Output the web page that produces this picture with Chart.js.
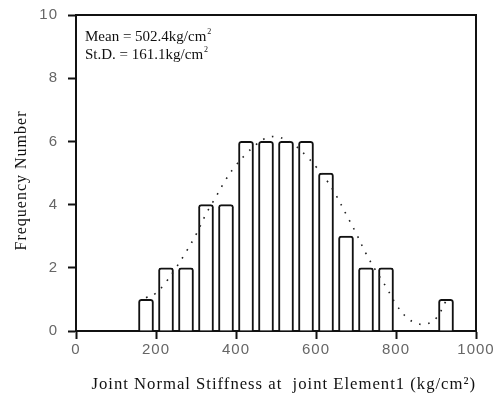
<!DOCTYPE html>
<html>
<head>
<meta charset="utf-8">
<script src="https://cdn.jsdelivr.net/npm/chart.js@4"></script>
<style>
  html, body { margin: 0; padding: 0; background: #fff; }
  #wrap { width: 503px; height: 395px; }
</style>
</head>
<body>
<div id="wrap"><canvas id="histChart"></canvas></div>
<script>
// histogram bins (class centres, kg/cm2) and counts
const binCenters = [175, 225, 275, 325, 375, 425, 475, 525, 575, 625, 675, 725, 775, 825, 875, 925];
const counts = [1, 2, 2, 4, 4, 6, 6, 6, 6, 5, 3, 2, 2, 0, 0, 1];

// dotted fitted curve
const curveX = [175, 200, 225, 250, 275, 300, 325, 350, 375, 400, 425, 450, 475, 500, 525, 550, 575, 600, 625, 650, 675, 700, 725, 750, 775, 800, 825, 850, 875, 900, 925];
const curveY = [1.05, 1.2, 1.55, 2.0, 2.5, 3.05, 3.7, 4.25, 4.8, 5.25, 5.6, 5.9, 6.1, 6.15, 6.05, 5.85, 5.55, 5.2, 4.8, 4.3, 3.7, 3.1, 2.45, 1.9, 1.4, 0.85, 0.45, 0.25, 0.22, 0.4, 0.95];

const xTicks = [0, 200, 400, 600, 800, 1000];
const yTicks = [0, 2, 4, 6, 8, 10];
const statLines = ['Mean = 502.4kg/cm', 'St.D. = 161.1kg/cm'];

const serif = '"Liberation Serif", "DejaVu Serif", serif';
const sans = '"Liberation Sans", Arial, sans-serif';

const spacingPlugin = {
    id: 'spacing',
    beforeDraw(chart) {
        chart.ctx.letterSpacing = '1px';
    }
};

const statsPlugin = {
    id: 'stats',
    afterDraw(chart) {
        const ctx = chart.ctx;
        const area = chart.chartArea;
        ctx.save();
        ctx.letterSpacing = '0px';
        ctx.fillStyle = '#111';
        ctx.textBaseline = 'alphabetic';
        statLines.forEach((txt, i) => {
            const x = area.left + 9;
            const y = area.top + 26 + i * 18;
            ctx.font = '15px ' + serif;
            ctx.fillText(txt, x, y);
            const w = ctx.measureText(txt).width;
            ctx.font = '8px ' + serif;
            ctx.fillText('2', x + w + 1, y - 7);
        });
        ctx.restore();
    }
};

const ctx = document.getElementById('histChart').getContext('2d');
new Chart(ctx, {
    data: {
        datasets: [{
            type: 'line',
            data: curveX.map((x, i) => ({ x: x, y: curveY[i] })),
            borderColor: '#222',
            borderWidth: 1.6,
            borderDash: [1.6, 7.5],
            pointRadius: 0,
            tension: 0.4,
            fill: false,
            order: 0
        }, {
            type: 'bar',
            data: binCenters.map((x, i) => ({ x: x, y: counts[i] })),
            backgroundColor: '#fff',
            borderColor: '#111',
            borderWidth: 2,
            borderSkipped: 'bottom',
            borderRadius: { topLeft: 3, topRight: 3 },
            barThickness: 15,
            order: 1
        }]
    },
    options: {
        responsive: true,
        maintainAspectRatio: false,
        animation: false,
        layout: { padding: { left: 0, right: 27, top: 15, bottom: 0 } },
        plugins: {
            legend: { display: false },
            tooltip: { enabled: false }
        },
        scales: {
            x: {
                type: 'linear',
                position: 'bottom',
                min: 0,
                max: 1000,
                offset: false,
                afterBuildTicks: (scale) => { scale.ticks = xTicks.map(v => ({ value: v })); },
                afterFit: (scale) => { scale.height = 64; scale.paddingLeft = 0; scale.paddingRight = 0; },
                grid: { offset: false, drawOnChartArea: false, drawTicks: true, tickLength: 8, tickColor: '#111', tickWidth: 2 },
                border: { display: true, color: '#111', width: 2 },
                ticks: {
                    color: '#666', padding: 2, maxRotation: 0,
                    font: { family: sans, size: 15 },
                    callback: (v) => String(v)
                },
                title: {
                    display: true,
                    text: '   Joint Normal Stiffness at  joint Element1 (kg/cm\u00B2)',
                    color: '#111',
                    font: { family: serif, size: 17 },
                    padding: { top: 0, bottom: 0 }
                }
            },
            y: {
                type: 'linear',
                position: 'left',
                min: 0,
                max: 10,
                afterBuildTicks: (scale) => { scale.ticks = yTicks.map(v => ({ value: v })); },
                afterFit: (scale) => { scale.width = 76; scale.paddingTop = 0; scale.paddingBottom = 0; },
                grid: { drawOnChartArea: false, drawTicks: true, tickLength: 8, tickColor: '#111', tickWidth: 2 },
                border: { display: true, color: '#111', width: 2 },
                ticks: { color: '#666', padding: 10, font: { family: sans, size: 15 } },
                title: {
                    display: true,
                    text: 'Frequency Number   ',
                    color: '#111',
                    font: { family: serif, size: 16 },
                    padding: { top: 12, bottom: 0 }
                }
            },
            xTop: {
                type: 'linear',
                position: 'top',
                min: 0,
                max: 1000,
                afterFit: (scale) => { scale.height = 0; },
                grid: { display: false },
                border: { display: true, color: '#111', width: 2 },
                ticks: { display: false }
            },
            yRight: {
                type: 'linear',
                position: 'right',
                min: 0,
                max: 10,
                afterFit: (scale) => { scale.width = 0; },
                grid: { display: false },
                border: { display: true, color: '#111', width: 2 },
                ticks: { display: false }
            }
        }
    },
    plugins: [spacingPlugin, statsPlugin]
});
</script>
</body>
</html>
